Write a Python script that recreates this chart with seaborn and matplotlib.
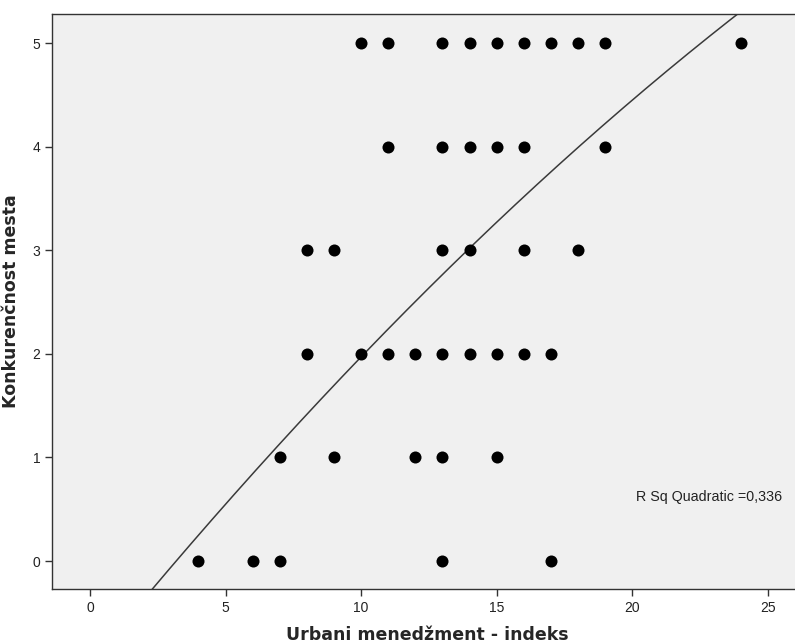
import numpy as np
import pandas as pd
import matplotlib
matplotlib.use('Agg')
import matplotlib.pyplot as plt
import seaborn as sns

# podaci procitani sa grafika
urbani = [10, 11, 13, 14, 15, 16, 17, 18, 19, 24,
          11, 13, 14, 15, 16, 19,
          8, 9, 13, 14, 16, 18,
          8, 10, 11, 12, 13, 14, 15, 16, 17,
          7, 9, 12, 13, 15,
          4, 6, 7, 13, 17]
konkurentnost = [5] * 10 + [4] * 6 + [3] * 6 + [2] * 9 + [1] * 5 + [0] * 5

# kvadratna kriva (procena sa slike)
fit_coef = [-0.996, 0.321, -0.00244]
r_sq_text = 'R Sq Quadratic =0,336'

df = pd.DataFrame({'urbani': urbani, 'konkurentnost': konkurentnost})

sns.set_style('ticks')
plt.rcParams['font.family'] = ['Liberation Sans', 'DejaVu Sans']

fig = plt.figure(figsize=(7.95, 6.43), dpi=100)
ax = fig.add_axes([52 / 795, 1 - 589 / 643, (803 - 52) / 795, (589 - 14) / 643])
ax.set_facecolor('#f0f0f0')

xs = np.linspace(0, 26.5, 300)
ys = fit_coef[0] + fit_coef[1] * xs + fit_coef[2] * xs ** 2
ax.plot(xs, ys, color='#3a3a3a', lw=1.1, zorder=2)

sns.scatterplot(data=df, x='urbani', y='konkurentnost', ax=ax, color='black',
                s=75, edgecolor='black', linewidth=0, zorder=3)

ax.set_xlim(-1.4, 26.3)
ax.set_ylim(-0.27, 5.28)
ax.set_xticks([0, 5, 10, 15, 20, 25])
ax.set_yticks([0, 1, 2, 3, 4, 5])
ax.tick_params(labelsize=10, length=5, width=1, color='#333333', labelcolor='#222222')
for s in ['left', 'bottom', 'top', 'right']:
    ax.spines[s].set_color('#333333')
    ax.spines[s].set_linewidth(1)

lab_font = dict(fontsize=12.5, fontweight='bold', family=['DejaVu Sans'])
ax.set_xlabel('Urbani menedžment - indeks', labelpad=8, **lab_font)
ax.set_ylabel('Konkurenčnost mesta', labelpad=9, **lab_font)

ax.text(22.85, 0.62, r_sq_text, fontsize=10.3, color='#222222', ha='center', va='center')

fig.savefig('out.png', dpi=100)
